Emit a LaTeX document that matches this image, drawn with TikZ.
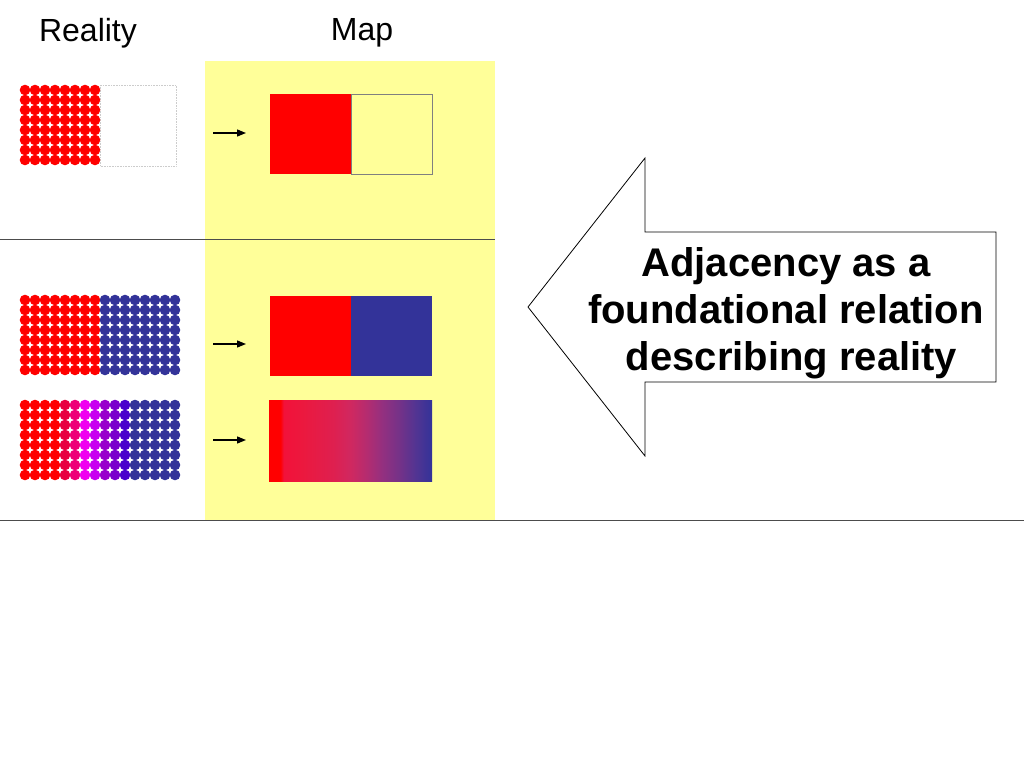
\documentclass[tikz,border=0pt]{standalone}
\usepackage{fontspec}
\setmainfont{Liberation Sans}
\usetikzlibrary{arrows.meta}
\definecolor{mapyellow}{HTML}{FFFF99}
\definecolor{mblue}{HTML}{333399}
\definecolor{cA}{HTML}{E8003F}
\definecolor{cB}{HTML}{EE0077}
\definecolor{cC}{HTML}{F000F0}
\definecolor{cD}{HTML}{C800F0}
\definecolor{cE}{HTML}{9900CC}
\definecolor{cF}{HTML}{7A00CC}
\definecolor{cG}{HTML}{4A00CC}
\definecolor{s1}{HTML}{F2123A}
\definecolor{s2}{HTML}{EC183E}
\definecolor{s3}{HTML}{DE2050}
\definecolor{s4}{HTML}{D02860}
\definecolor{s5}{HTML}{B42C70}
\definecolor{s6}{HTML}{923080}
\definecolor{s7}{HTML}{743288}
\definecolor{s8}{HTML}{523492}
\pgfdeclarehorizontalshading{redblue}{100bp}{color(0bp)=(red); color(25bp)=(red); color(28.5bp)=(red); color(29.5bp)=(s1); color(35bp)=(s2); color(45bp)=(s3); color(50bp)=(s4); color(55bp)=(s5); color(60bp)=(s6); color(65bp)=(s7); color(70bp)=(s8); color(75bp)=(mblue); color(100bp)=(mblue)}
\tikzset{
  dot/.style={circle,fill=#1,inner sep=0pt,minimum size=10.6pt},
  smallarrow/.style={-{Triangle[length=9pt,width=7pt]},line width=1.3pt,black},
  sepline/.style={draw=black!70,line width=0.8pt},
  label/.style={font=\fontsize{32}{38}\selectfont,inner sep=0pt},
}
\begin{document}
\begin{tikzpicture}[x=1pt,y=-1pt]
\useasboundingbox (0,0) rectangle (1024,768);
\fill[white] (0,0) rectangle (1024,768);
% yellow map panel
\fill[mapyellow] (205,61) rectangle (495,520);
% separators
\draw[sepline] (0,239) -- (495,239);
\draw[sepline] (0,520) -- (1024,520);
% titles
\node[label] (reality) at (88,33) {Reality};
\node[label] (map) at (362,33) {Map};
% grid 1
\draw[black!20,densely dotted,line width=0.6pt] (100,85) rectangle (176,166);
\foreach \i in {0,...,7}{\foreach \j in {0,...,7}{
  \node[dot=red] (ga-\i-\j) at (25+10*\i,90+10*\j) {};}}
% grid 2
\foreach \i in {0,...,15}{\foreach \j in {0,...,7}{
  \ifnum\i<8 \node[dot=red] (gb-\i-\j) at (25+10*\i,300+10*\j) {};
  \else \node[dot=mblue] (gb-\i-\j) at (25+10*\i,300+10*\j) {}; \fi}}
% grid 3
\foreach \i/\c in {0/red,1/red,2/red,3/red,4/cA,5/cB,6/cC,7/cD,8/cE,9/cF,10/cG,11/mblue,12/mblue,13/mblue,14/mblue,15/mblue}{
  \foreach \j in {0,...,7}{
    \node[dot=\c] (gc-\i-\j) at (25+10*\i,405+10*\j) {};}}
% small arrows
\coordinate (a1s) at (213,133); \coordinate (a1e) at (246,133);
\coordinate (a2s) at (213,344); \coordinate (a2e) at (246,344);
\coordinate (a3s) at (213,440); \coordinate (a3e) at (246,440);
\draw[smallarrow] (a1s) -- (a1e);
\draw[smallarrow] (a2s) -- (a2e);
\draw[smallarrow] (a3s) -- (a3e);
% map 1
\fill[red] (270,94) rectangle (351,174);
\draw[black!50,line width=0.7pt] (351,94) rectangle (432,174);
% map 2
\fill[red] (270,296) rectangle (351,376);
\fill[mblue] (351,296) rectangle (432,376);
% map 3
\shade[shading=redblue] (269,400) rectangle (432,481);
% big arrow
\draw[black,line width=0.8pt,fill=white] (528,307) -- (645,158) -- (645,232) -- (996,232) -- (996,382) -- (645,382) -- (645,456) -- cycle;
\node[font=\bfseries\fontsize{40}{47}\selectfont,align=center,inner sep=0pt] (claim) at (786,313) {Adjacency as a\\foundational relation\\\ describing reality};
\end{tikzpicture}
\end{document}
